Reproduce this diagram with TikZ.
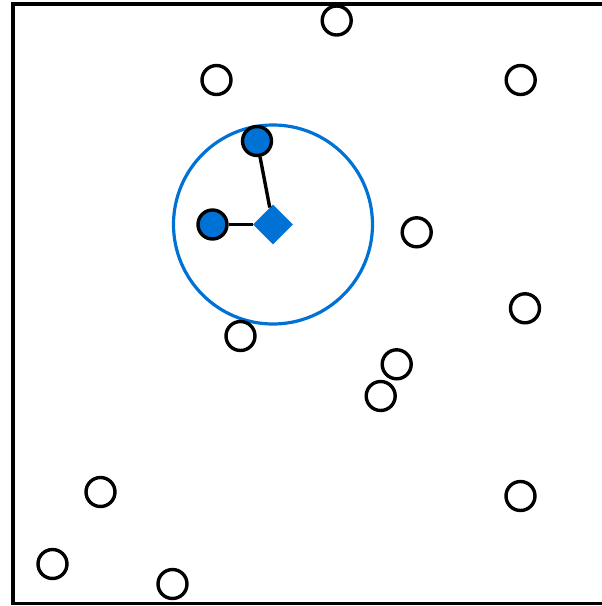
\documentclass[tikz,border=0pt]{standalone}
\usetikzlibrary{shapes.geometric}
\definecolor{accent}{RGB}{0,114,214}
\begin{document}
\begin{tikzpicture}[x=1pt,y=-1pt,
  pt/.style={circle,draw=black,line width=3.4pt,minimum size=29pt,inner sep=0pt,fill=white},
  sel/.style={pt,fill=accent},
  query/.style={diamond,fill=accent,minimum width=40pt,minimum height=40pt,inner sep=0pt},
  link/.style={draw=black,line width=3.4pt}]
\useasboundingbox (0,0) rectangle (602,606);
\draw[line width=3.6pt] (13,4) rectangle (640,603.5);
\node[draw=accent,line width=3.2pt,circle,minimum size=199pt,inner sep=0pt] (range) at (273,224.5) {};
\node[query] (q) at (273,224.5) {};
\node[sel] (s1) at (257,141) {};
\node[sel] (s2) at (212.5,224.5) {};
\draw[link] (s1) -- (q);
\draw[link] (s2) -- (q);
\node[pt] (p1) at (336.7,20.5) {};
\node[pt] (p2) at (216.5,80) {};
\node[pt] (p3) at (520.7,80) {};
\node[pt] (p4) at (416.7,232.3) {};
\node[pt] (p5) at (525,308.3) {};
\node[pt] (p6) at (240.5,336) {};
\node[pt] (p7) at (396.7,364.3) {};
\node[pt] (p8) at (380.7,396) {};
\node[pt] (p9) at (100.5,492) {};
\node[pt] (p10) at (520.5,496) {};
\node[pt] (p11) at (52.5,564) {};
\node[pt] (p12) at (172.5,584) {};
\end{tikzpicture}
\end{document}
